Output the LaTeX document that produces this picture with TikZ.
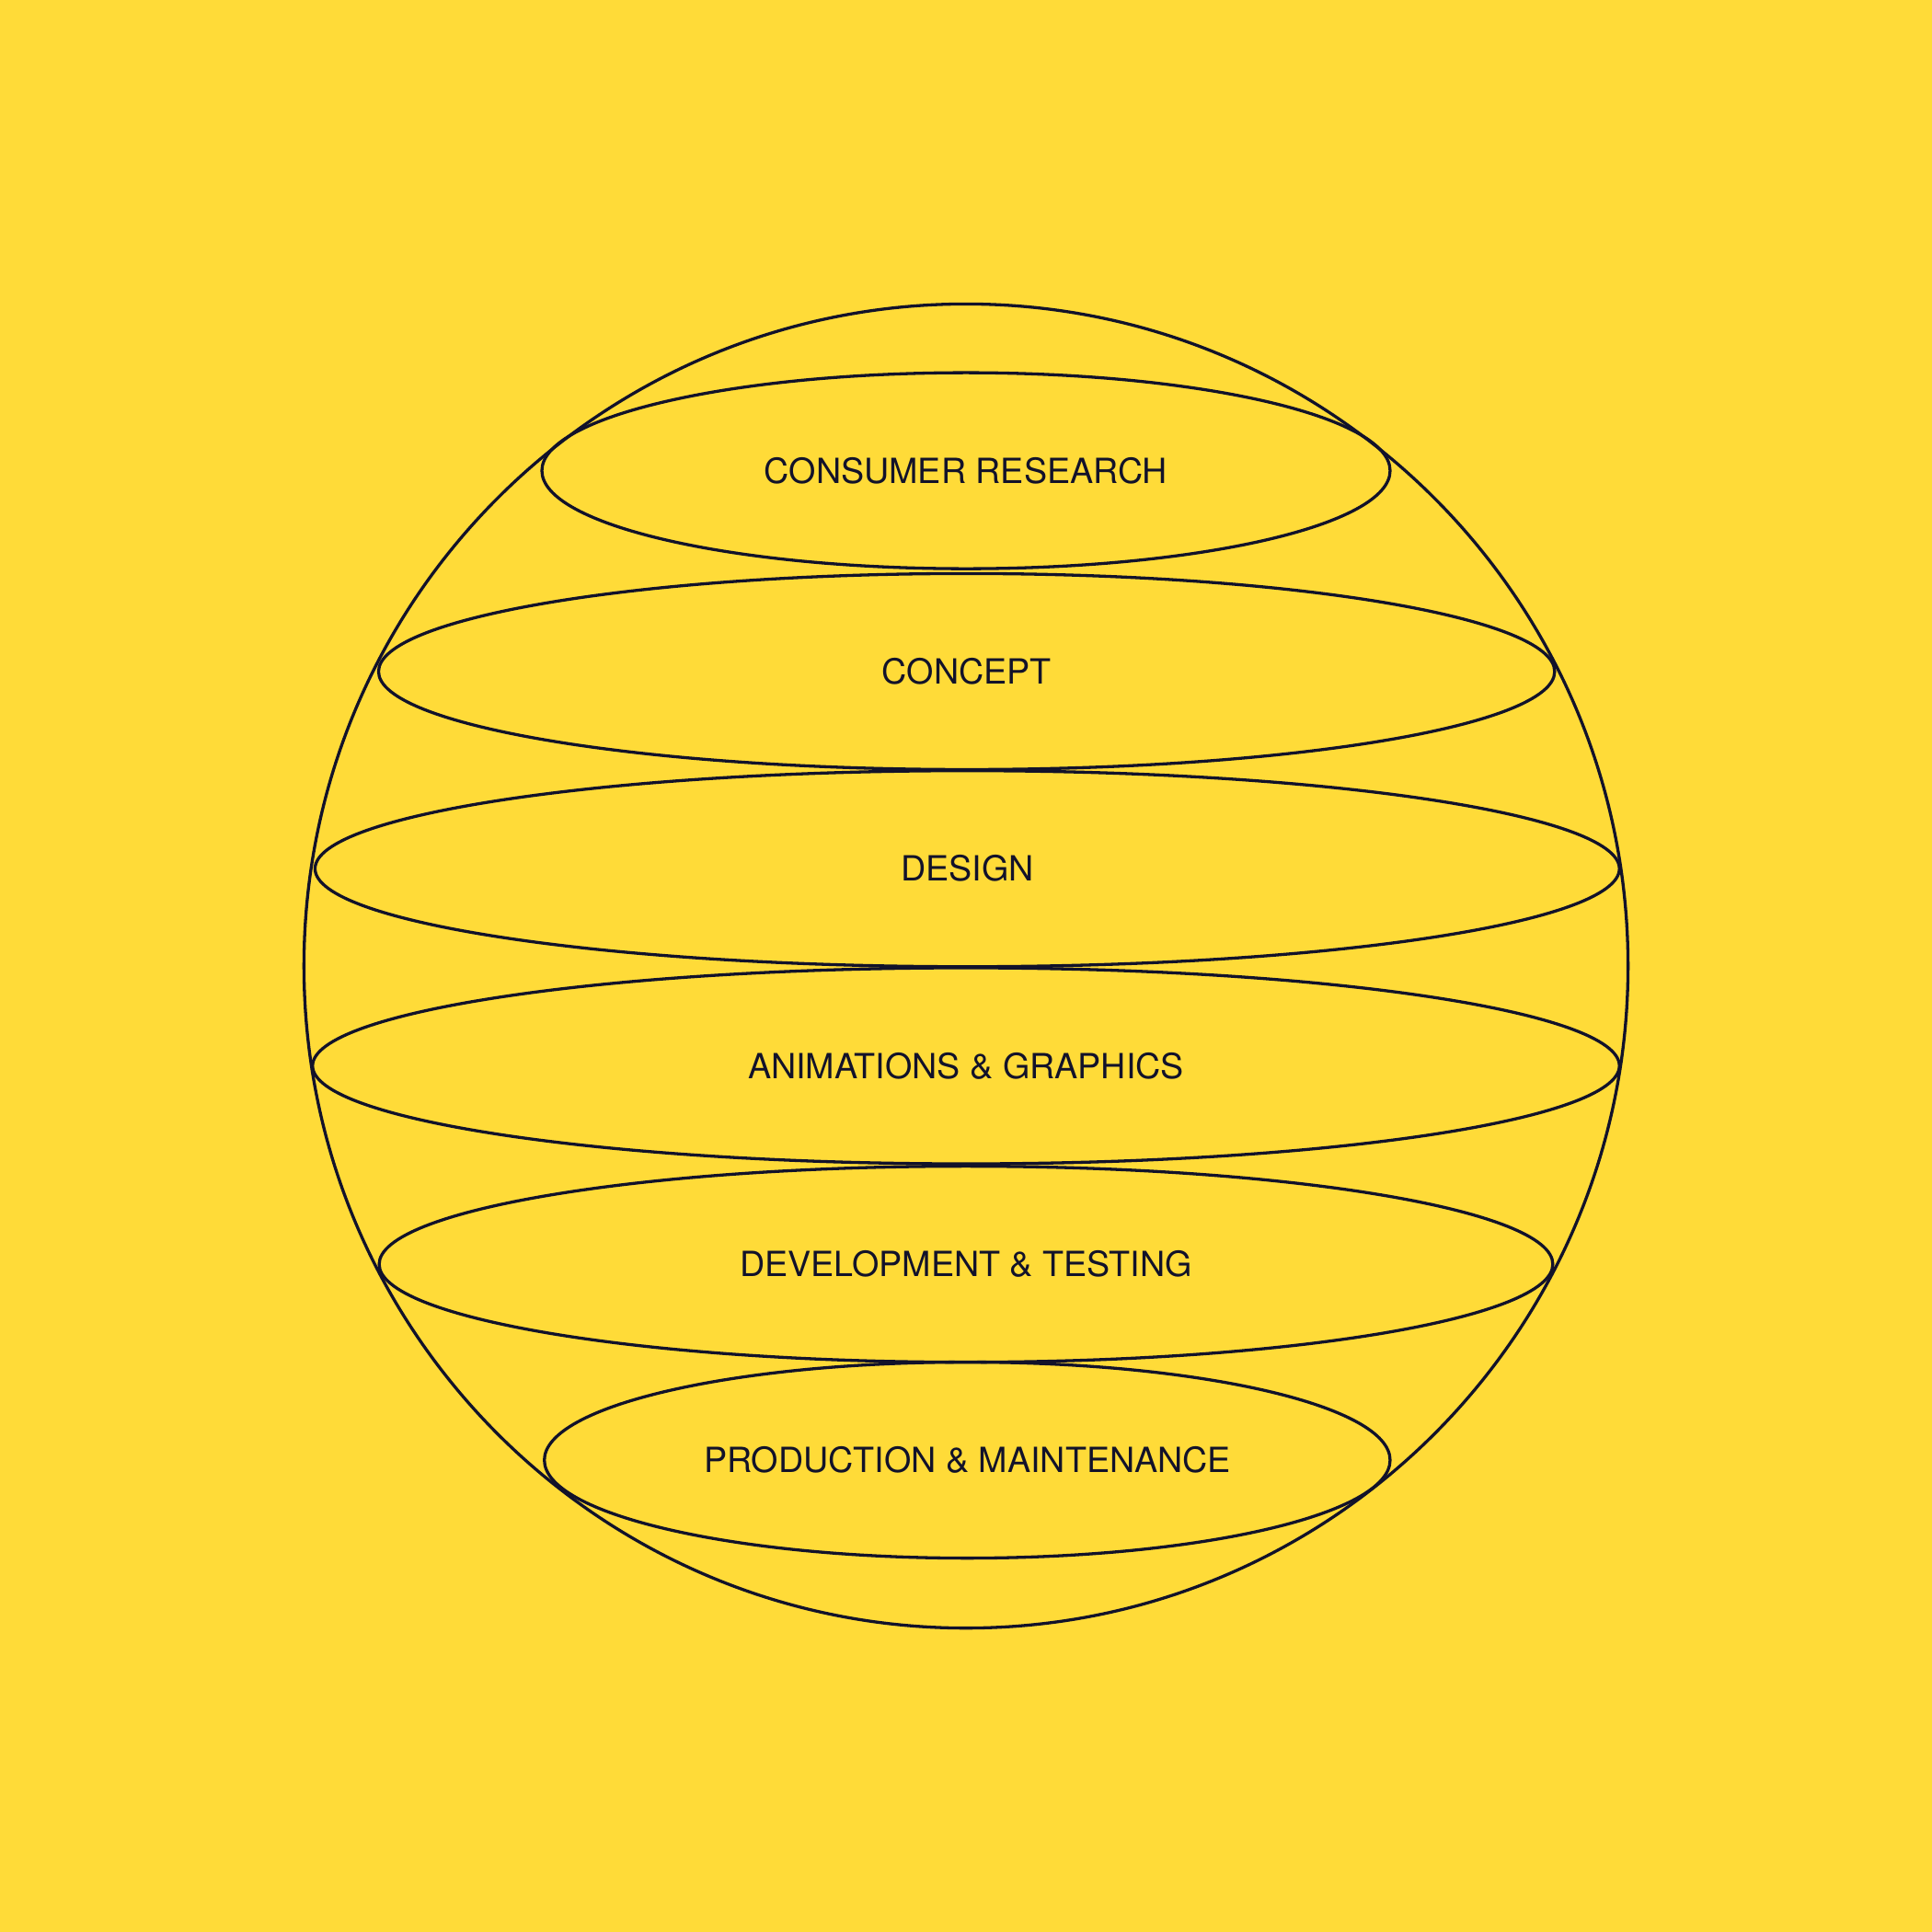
\documentclass[tikz,border=0pt]{standalone}
\usepackage{fontspec}
\setmainfont{TeX Gyre Heros}
\usetikzlibrary{shapes.geometric}
\definecolor{bgyellow}{HTML}{FFDB38}
\definecolor{ink}{HTML}{12122A}
\begin{document}
\begin{tikzpicture}[x=0.01cm,y=-0.01cm,
  band/.style={ellipse, draw=ink, line width=0.7pt, inner sep=0pt, text=ink,
    font=\fontsize{8}{9.5}\selectfont, minimum height=1.59cm},
  globe/.style={circle, draw=ink, line width=0.7pt, inner sep=0pt, minimum size=10.74cm}]
\fill[bgyellow] (0,0) rectangle (1568,1568);
\useasboundingbox (0,0) rectangle (1568,1568);
\node[globe] (sphere) at (784,784) {};
\node[band, minimum width=6.88cm] (cr) at (784,382) {CONSUMER RESEARCH};
\node[band, minimum width=9.54cm] (co) at (784.5,545) {CONCEPT};
\node[band, minimum width=10.58cm] (de) at (785,705) {DESIGN};
\node[band, minimum width=10.60cm] (an) at (784,865) {ANIMATIONS \& GRAPHICS};
\node[band, minimum width=9.52cm] (dt) at (784,1026) {DEVELOPMENT \& TESTING};
\node[band, minimum width=6.86cm] (pm) at (785,1185) {PRODUCTION \& MAINTENANCE};
\end{tikzpicture}
\end{document}
